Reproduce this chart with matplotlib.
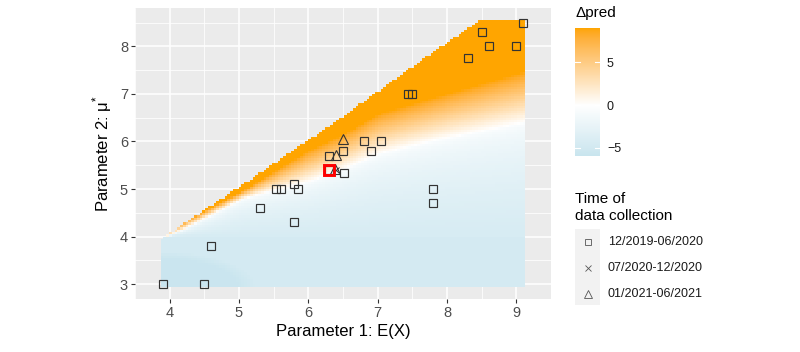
import numpy as np
import matplotlib
matplotlib.use("Agg")
import matplotlib.pyplot as plt
from matplotlib.colors import ListedColormap, Normalize

plt.rcParams['font.family'] = ['Liberation Sans', 'DejaVu Sans']
plt.rcParams['mathtext.fontset'] = 'custom'
plt.rcParams['mathtext.rm'] = 'Liberation Sans'

# ---------------- data ----------------
# upper edge of the computed region (Parameter 2 <= boundary)
bound_x = [3.87, 5.07, 6.47, 7.02, 7.86, 8.50, 9.13]
bound_y = [3.93, 5.09, 6.47, 7.05, 7.92, 8.55, 8.55]
# contour where delta-pred = 0 (white)
zero_x = [3.87, 4.20, 5.07, 6.00, 6.47, 7.02, 7.86, 9.13]
zero_y = [3.95, 4.15, 4.80, 5.15, 5.40, 5.74, 6.03, 6.40]
# contour where delta-pred reaches the top of the scale (solid orange)
sat_x = [3.87, 4.30, 5.07, 6.00, 6.47, 7.02, 7.86, 9.13]
sat_y = [4.05, 4.38, 4.97, 5.80, 6.12, 6.58, 6.94, 7.47]
# negative delta-pred levels: just above y = 4, below y = 4, bottom-left corner
neg_upper = -4.5
neg_lower = -4.85
neg_corner = -5.9

# observed studies
sq_x = [9.1, 8.5, 8.6, 9.0, 8.3, 7.44, 7.49, 6.8, 7.05, 6.9, 6.5, 6.3, 6.3,
        6.52, 5.53, 5.6, 5.8, 5.85, 5.3, 5.8, 7.8, 7.8, 4.6, 3.9, 4.5]
sq_y = [8.5, 8.3, 8.0, 8.0, 7.75, 7.0, 7.0, 6.0, 6.0, 5.8, 5.8, 5.7, 5.4,
        5.34, 5.0, 5.0, 5.1, 5.0, 4.6, 4.3, 5.0, 4.7, 3.8, 3.0, 3.0]
cr_x = [6.4]
cr_y = [5.4]
tr_x = [6.5, 6.4, 6.38]
tr_y = [6.05, 5.72, 5.42]
hl_x = [6.3]
hl_y = [5.4]

legend_labels = ["12/2019-06/2020", "07/2020-12/2020", "01/2021-06/2021"]
cbar_ticks = [-5, 0, 5]
cbar_range = [-5.94, 9.0]

# ---------------- colour scale (ggplot gradient2 in Lab) ----------------
def _to_lin(c):
    c = np.asarray(c, float)
    return np.where(c <= 0.04045, c / 12.92, ((c + 0.055) / 1.055) ** 2.4)

def _to_srgb(c):
    c = np.clip(c, 0, 1)
    return np.where(c <= 0.0031308, 12.92 * c, 1.055 * c ** (1 / 2.4) - 0.055)

M = np.array([[0.4124, 0.3576, 0.1805], [0.2126, 0.7152, 0.0722], [0.0193, 0.1192, 0.9505]])
WP = M @ np.ones(3)

def rgb2lab(rgb):
    xyz = M @ _to_lin(rgb) / WP
    f = np.where(xyz > 0.008856, np.cbrt(xyz), 7.787 * xyz + 16 / 116)
    return np.array([116 * f[1] - 16, 500 * (f[0] - f[1]), 200 * (f[1] - f[2])])

def lab2rgb(lab):
    fy = (lab[0] + 16) / 116
    fx = fy + lab[1] / 500
    fz = fy - lab[2] / 200
    f = np.array([fx, fy, fz])
    xyz = np.where(f ** 3 > 0.008856, f ** 3, (f - 16 / 116) / 7.787) * WP
    return _to_srgb(np.linalg.solve(M, xyz))

def hex2rgb(h):
    return np.array([int(h[i:i + 2], 16) / 255 for i in (1, 3, 5)])

low, mid, high = rgb2lab(hex2rgb("#ADD8E6")), rgb2lab(hex2rgb("#FFFFFF")), rgb2lab(hex2rgb("#FFA500"))
cols = []
for t in np.linspace(0, 1, 256):
    if t < 0.5:
        lab = low + (mid - low) * (t / 0.5)
    else:
        lab = mid + (high - mid) * ((t - 0.5) / 0.5)
    cols.append(lab2rgb(lab))
cmap = ListedColormap(cols)
norm = Normalize(-9, 9)

# ---------------- field ----------------
xe = np.linspace(3.87, 9.13, 132)
ye = np.linspace(2.95, 8.55, 113)
xc = (xe[:-1] + xe[1:]) / 2
yc = (ye[:-1] + ye[1:]) / 2
X, Y = np.meshgrid(xc, yc)
y0 = np.interp(X, zero_x, zero_y)
ys = np.interp(X, sat_x, sat_y)
ytop = np.interp(X, bound_x, bound_y)
pos = 9 * (Y - y0) / (ys - y0)
frac_up = np.clip((y0 - Y) / np.maximum(y0 - 4.0, 0.05), 0, 1) ** 0.45
corner = ((X - 3.87) / 1.35) ** 2 + ((Y - 2.95) / 0.72) ** 2
neg_low = np.where(corner < 1, neg_lower + (neg_corner - neg_lower) * np.clip((1 - corner) * 3, 0, 1),
                   neg_lower)
neg = np.where(Y >= 4.0, neg_upper * frac_up, neg_low)
D = np.clip(np.where(Y >= y0, pos, neg), -9, 9)
D = np.ma.masked_where(Y > ytop + 0.02, D)

# ---------------- figure ----------------
fig = plt.figure(figsize=(8.0, 3.52), dpi=100)
ax = fig.add_axes([135 / 800, 53 / 352, 416 / 800, 291 / 352])
ax.set_facecolor("#EBEBEB")
ax.set_xlim(3.615, 9.40)
ax.set_ylim(2.69, 8.805)
ax.set_xticks([4, 5, 6, 7, 8, 9])
ax.set_yticks([3, 4, 5, 6, 7, 8])
ax.set_xticks(np.arange(3.5, 9.6, 1.0), minor=True)
ax.set_yticks(np.arange(3.5, 8.6, 1.0), minor=True)
ax.grid(which="major", color="white", lw=1.1)
ax.grid(which="minor", color="white", lw=0.55)
ax.set_axisbelow(True)
for s in ax.spines.values():
    s.set_visible(False)
ax.tick_params(which="major", length=3, width=0.8, color="#333333",
               labelsize=10.5, labelcolor="#4D4D4D", pad=2)
ax.tick_params(which="minor", length=0)

ax.pcolormesh(xe, ye, D, cmap=cmap, norm=norm, shading="flat",
              edgecolors="none", antialiased=False, zorder=1)

mk = dict(ls="none", mfc="none", mec="#333333", zorder=3)
ax.plot(sq_x, sq_y, marker="s", ms=5.8, mew=0.85, **mk)
ax.plot(cr_x, cr_y, marker="x", ms=4.5, mew=0.7, **mk)
ax.plot(tr_x, tr_y, marker="^", ms=6.5, mew=0.8, **mk)
ax.plot(hl_x, hl_y, marker="s", ls="none", ms=6.5, mew=2.1, mfc="none", mec="red", zorder=4)

ax.set_xlabel("Parameter 1: E(X)", fontsize=12, color="black", labelpad=3)
ax.set_ylabel("Parameter 2: μ$^{*}$", fontsize=12, color="black", labelpad=4)

# ---------------- colour bar legend ----------------
fig.text(575 / 800, 1 - 17 / 352, "Δpred", fontsize=11, ha="left", va="baseline")
cax = fig.add_axes([575 / 800, 1 - 156 / 352, 25 / 800, 128 / 352])
grad = np.linspace(cbar_range[0], cbar_range[1], 200).reshape(-1, 1)
cax.imshow(grad, cmap=cmap, norm=norm, aspect="auto", origin="lower",
           extent=[0, 1, cbar_range[0], cbar_range[1]])
cax.set_xlim(0, 1)
cax.set_ylim(cbar_range)
cax.set_xticks([])
cax.set_yticks(cbar_ticks)
cax.yaxis.tick_right()
cax.tick_params(axis="y", length=0, labelsize=9, labelcolor="#1A1A1A", pad=5)
for t in cbar_ticks:
    cax.plot([0, 0.2], [t, t], color="white", lw=0.8)
    cax.plot([0.8, 1], [t, t], color="white", lw=0.8)
for s in cax.spines.values():
    s.set_visible(False)

# ---------------- shape legend ----------------
fig.text(575 / 800, 1 - 203 / 352, "Time of", fontsize=11, ha="left", va="baseline")
fig.text(575 / 800, 1 - 220 / 352, "data collection", fontsize=11, ha="left", va="baseline")
lax = fig.add_axes([575 / 800, 1 - 305 / 352, 25 / 800, 76 / 352])
lax.set_facecolor("#F2F2F2")
lax.set_xlim(0, 1)
lax.set_ylim(305, 229)
lax.set_xticks([])
lax.set_yticks([])
for s in lax.spines.values():
    s.set_visible(False)
key_y = [242, 268, 294]
key_m = ["s", "x", "^"]
key_s = [5.0, 4.8, 5.4]
for yy, m, ms, lab in zip(key_y, key_m, key_s, legend_labels):
    lax.plot([0.5], [yy], marker=m, ms=ms, mew=0.6, mfc="none", mec="#555555", ls="none")
    fig.text(608 / 800, 1 - yy / 352, lab, fontsize=9, ha="left", va="center", color="#1A1A1A")

fig.savefig("out.png", dpi=100)
